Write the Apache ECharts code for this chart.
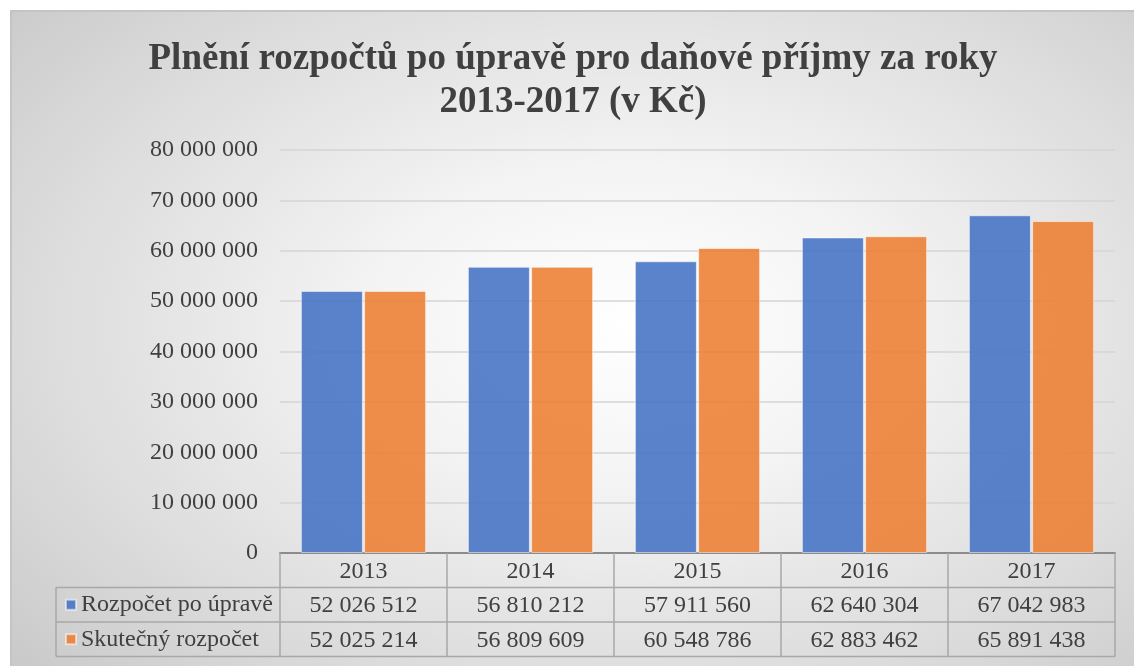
<!DOCTYPE html>
<html>

<head>
    <meta charset="UTF-8">
    <title>Plnění rozpočtů</title>
    <script src="https://cdn.jsdelivr.net/npm/echarts@6/dist/echarts.min.js"></script>
    <style>
        html, body {
            margin: 0;
            padding: 0;
            background: #ffffff;
            overflow: hidden;
        }

        #echart {
            position: absolute;
            left: 10px;
            top: 10px;
            width: 1124px;
            height: 656px;
            border-top: 2px solid #c4c4c4;
            border-left: 2px solid #c4c4c4;
            box-sizing: border-box;
            background: radial-gradient(ellipse 75% 80% at 55% 48%, #ffffff 0%, #f4f4f4 30%, #dcdcdc 70%, #c8c8c8 100%);
        }
    </style>
</head>

<body>
    <div id="echart"></div>

    <script type="text/javascript">
        // data
        var years = ['2013', '2014', '2015', '2016', '2017'];
        var rozpocetPoUprave = [52026512, 56810212, 57911560, 62640304, 67042983];
        var skutecnyRozpocet = [52025214, 56809609, 60548786, 62883462, 65891438];
        var seriesNames = ['Rozpočet po úpravě', 'Skutečný rozpočet'];

        var font = '"Liberation Serif", "Times New Roman", serif';
        var textColor = '#404040';
        var tableLine = '#a8a8a8';

        // grid position inside the canvas (canvas starts at 12,12 of the page)
        var gridLeft = 268, gridTop = 138, gridRight = 19, gridBottom = 113;
        var rowH = 34.5;
        var fontSize = 24;

        function fmt(v) {
            return String(v).replace(/\B(?=(\d{3})+(?!\d))/g, ' ');
        }

        var myChart = echarts.init(document.getElementById('echart'));
        var W = myChart.getWidth(), H = myChart.getHeight();
        var axisY = H - gridBottom;
        var tableLeft = 44, tableRight = W - gridRight;

        var option = {
            animation: false,
            color: ['#4472C4', '#ED7D31'],
            title: {
                text: 'Plnění rozpočtů po úpravě pro daňové příjmy za roky\n2013-2017 (v Kč)',
                left: 'center',
                top: 21,
                textStyle: {
                    fontFamily: font,
                    fontSize: 37,
                    fontWeight: 'bold',
                    color: textColor,
                    lineHeight: 43
                }
            },
            legend: {
                orient: 'vertical',
                left: 53,
                padding: 0,
                top: axisY + rowH + (rowH - 28) / 2,
                icon: 'rect',
                itemWidth: 10,
                itemHeight: 10,
                itemGap: rowH - 28,
                textStyle: {
                    fontFamily: font,
                    fontSize: fontSize,
                    color: textColor,
                    lineHeight: 28
                },
                data: seriesNames
            },
            grid: {
                left: gridLeft,
                right: gridRight,
                top: gridTop,
                bottom: gridBottom
            },
            xAxis: {
                type: 'category',
                data: years,
                axisLine: {
                    lineStyle: { color: '#8c8c8c', width: 2 }
                },
                axisTick: {
                    show: true,
                    interval: 0,
                    length: rowH * 3,
                    lineStyle: { color: tableLine, width: 1.5 }
                },
                axisLabel: {
                    interval: 0,
                    margin: 1,
                    fontFamily: font,
                    fontSize: fontSize,
                    color: textColor,
                    lineHeight: rowH,
                    formatter: function (v, i) {
                        return v + '\n' + fmt(rozpocetPoUprave[i]) + '\n' + fmt(skutecnyRozpocet[i]);
                    }
                }
            },
            yAxis: {
                type: 'value',
                min: 0,
                max: 80000000,
                interval: 10000000,
                axisLine: { show: false },
                axisTick: { show: false },
                axisLabel: {
                    margin: 22,
                    fontFamily: font,
                    fontSize: fontSize,
                    color: textColor,
                    formatter: fmt
                },
                splitLine: {
                    lineStyle: { color: '#d4d4d4', width: 1.5 }
                }
            },
            graphic: [
                // table row lines
                { type: 'line', shape: { x1: tableLeft, y1: axisY + rowH, x2: tableRight, y2: axisY + rowH }, style: { stroke: tableLine, lineWidth: 1.5 } },
                { type: 'line', shape: { x1: tableLeft, y1: axisY + rowH * 2, x2: tableRight, y2: axisY + rowH * 2 }, style: { stroke: tableLine, lineWidth: 1.5 } },
                { type: 'line', shape: { x1: tableLeft, y1: axisY + rowH * 3, x2: tableRight, y2: axisY + rowH * 3 }, style: { stroke: tableLine, lineWidth: 1.5 } },
                { type: 'line', shape: { x1: tableLeft, y1: axisY + rowH, x2: tableLeft, y2: axisY + rowH * 3 }, style: { stroke: tableLine, lineWidth: 1.5 } }
            ],
            series: [
                {
                    name: seriesNames[0],
                    type: 'bar',
                    barCategoryGap: '25%',
                    barGap: '2%',
                    itemStyle: { opacity: 0.88, borderColor: 'rgba(255,255,255,0.6)', borderWidth: 1 },
                    data: rozpocetPoUprave
                },
                {
                    name: seriesNames[1],
                    type: 'bar',
                    barCategoryGap: '25%',
                    barGap: '2%',
                    itemStyle: { opacity: 0.88, borderColor: 'rgba(255,255,255,0.6)', borderWidth: 1 },
                    data: skutecnyRozpocet
                }
            ]
        };

        myChart.setOption(option);
    </script>

</body>

</html>
